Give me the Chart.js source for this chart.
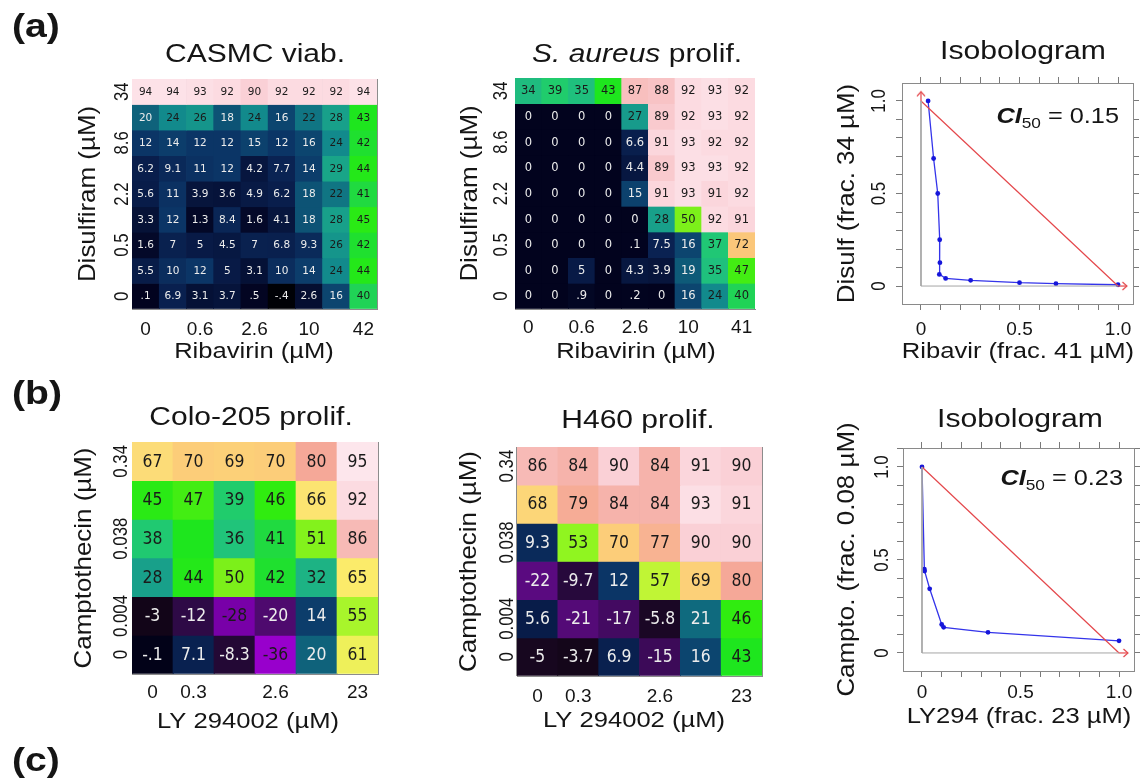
<!DOCTYPE html>
<html><head><meta charset="utf-8">
<script src="https://cdn.jsdelivr.net/npm/chart.js@4.4.0/dist/chart.umd.min.js"></script>
<style>
html,body{margin:0;padding:0;background:#fff;}
#wrap{position:relative;width:1141px;height:782px;overflow:hidden;background:#fff;}
canvas{position:absolute;}
</style></head><body><div id="wrap">
<canvas id="a1" width="410" height="372" style="left:0px;top:0px"></canvas>
<canvas id="a2" width="400" height="372" style="left:410px;top:0px"></canvas>
<canvas id="a3" width="331" height="372" style="left:810px;top:0px"></canvas>
<canvas id="b1" width="410" height="410" style="left:0px;top:372px"></canvas>
<canvas id="b2" width="400" height="410" style="left:410px;top:372px"></canvas>
<canvas id="b3" width="331" height="410" style="left:810px;top:372px"></canvas>
</div>
<script>
// ---------------- DATA ----------------
const casmcCols = ['0','','0.6','','2.6','','10','','42'];
const casmcRows = ['34','','8.6','','2.2','','0.5','','0'];
const casmcValues = [
  [94,94,93,92,90,92,92,92,94],
  [20,24,26,18,24,16,22,28,43],
  [12,14,12,12,15,12,16,24,42],
  [6.2,9.1,11,12,4.2,7.7,14,29,44],
  [5.6,11,3.9,3.6,4.9,6.2,18,22,41],
  [3.3,12,1.3,8.4,1.6,4.1,18,28,45],
  [1.6,7,5,4.5,7,6.8,9.3,26,42],
  [5.5,10,12,5,3.1,10,14,24,44],
  [0.1,6.9,3.1,3.7,0.5,-0.4,2.6,16,40]
];

const aureusCols = ['0','','0.6','','2.6','','10','','41'];
const aureusRows = ['34','','8.6','','2.2','','0.5','','0'];
const aureusValues = [
  [34,39,35,43,87,88,92,93,92],
  [0,0,0,0,27,89,92,93,92],
  [0,0,0,0,6.6,91,93,92,92],
  [0,0,0,0,4.4,89,93,93,92],
  [0,0,0,0,15,91,93,91,92],
  [0,0,0,0,0,28,50,92,91],
  [0,0,0,0,0.1,7.5,16,37,72],
  [0,0,5,0,4.3,3.9,19,35,47],
  [0,0,0.9,0,0.2,0,16,24,40]
];

const coloCols = ['0','0.3','','2.6','','23'];
const coloRows = ['0.34','','0.038','','0.004','0'];
const coloValues = [
  [67,70,69,70,80,95],
  [45,47,39,46,66,92],
  [38,43,36,41,51,86],
  [28,44,50,42,32,65],
  [-3,-12,-28,-20,14,55],
  [-0.1,7.1,-8.3,-36,20,61]
];
const coloUnprinted = [[2,1]];   // cell shown without a number in the figure

const h460Cols = ['0','0.3','','2.6','','23'];
const h460Rows = ['0.34','','0.038','','0.004','0'];
const h460Values = [
  [86,84,90,84,91,90],
  [68,79,84,84,93,91],
  [9.3,53,70,77,90,90],
  [-22,-9.7,12,57,69,80],
  [5.6,-21,-17,-5.8,21,46],
  [-5,-3.7,6.9,-15,16,43]
];

const isoARibavirin = [0.036,0.064,0.085,0.095,0.096,0.093,0.125,0.252,0.5,0.685,1.0];
const isoADisulf    = [1.0,0.689,0.5,0.25,0.126,0.063,0.041,0.031,0.018,0.013,0.007];
const isoBLy        = [0,0.012,0.0135,0.039,0.1,0.11,0.335,1.0];
const isoBCampto    = [1.0,0.451,0.44,0.345,0.153,0.138,0.111,0.065];
const additivity    = [[0,1],[1,0]];
const isoAArrowTips = [[0,1.05],[1.045,0]];
const isoBArrowTips = [[1.045,0]];
const isoTickValues = [0,0.5,1];
const isoTickLabels = ['0','0.5','1.0'];
const isoACI = '0.15';
const isoBCI = '0.23';

// ---------------- HELPERS ----------------
const FONT = "'Liberation Sans', Arial, Helvetica, sans-serif";
const CELLFONT = "'DejaVu Sans', Verdana, sans-serif";
const INK = '#151515';

const heatStops = [
 [-40,'#a400d8'],[-36,'#9800cc'],[-28,'#7800a8'],[-22,'#5a0a80'],[-20,'#4e0a6e'],[-15,'#3c0a58'],
 [-12,'#2e0a46'],[-8,'#220834'],[-5,'#17071f'],[-3,'#120518'],[-0.5,'#000000'],[0,'#02031e'],
 [2,'#040b2c'],[5,'#081a46'],[8,'#0a2454'],[12,'#0b3566'],[16,'#0c456f'],[19,'#0e5a78'],
 [21,'#0f6a7e'],[24,'#128a8c'],[28,'#18a08a'],[33,'#1eb882'],[36,'#20c47a'],[39,'#20cc6c'],
 [41,'#20da40'],[43,'#1ee61e'],[46,'#30ec10'],[50,'#7cf01a'],[53,'#90f520'],[57,'#c0f535'],
 [61,'#eef05a'],[65,'#fbeb6a'],[67,'#fcdc78'],[69,'#fcd078'],[72,'#fbc77a'],[77,'#f8b392'],
 [80,'#f5a898'],[84,'#f6b3ab'],[86,'#f7bab6'],[88,'#f8c3c5'],[90,'#fad0d6'],[92,'#fcdbe1'],[95,'#fde6ec']
];
function hex2rgb(h){return [1,3,5].map(i=>parseInt(h.substr(i,2),16));}
function heatColor(v){
  if (v <= heatStops[0][0]) return heatStops[0][1];
  for (let k=1;k<heatStops.length;k++){
    if (v <= heatStops[k][0]) {
      const [v0,c0] = heatStops[k-1], [v1,c1] = heatStops[k];
      const t = (v-v0)/(v1-v0), a = hex2rgb(c0), b = hex2rgb(c1);
      return 'rgb(' + a.map((x,i)=>Math.round(x+(b[i]-x)*t)).join(',') + ')';
    }
  }
  return heatStops[heatStops.length-1][1];
}
function labelColor(v){ return (v > -25 && v <= 21) ? '#ececec' : '#1a1a1a'; }
function fmtVal(v){
  if (v === 0) return '0';
  if (Math.abs(v) < 1) return (v<0?'-':'') + String(Math.abs(v)).replace(/^0/,'');
  return String(v);
}
function drawText(ctx, s, x, y, o){
  ctx.save();
  ctx.translate(x, y);
  if (o.rot) ctx.rotate(o.rot);
  ctx.scale(o.sx || 1, 1);
  ctx.font = o.font;
  ctx.fillStyle = o.color || INK;
  ctx.textAlign = o.align || 'center';
  ctx.textBaseline = o.base || 'alphabetic';
  ctx.fillText(s, 0, 0);
  ctx.restore();
}
function drawRich(ctx, segs, x, y, align, sx){
  ctx.save();
  ctx.translate(x, y);
  ctx.scale(sx, 1);
  let total = 0;
  segs.forEach(s => { ctx.font = s.font; s.w = ctx.measureText(s.t).width; total += s.w; });
  let cx = align === 'center' ? -total/2 : (align === 'right' ? -total : 0);
  segs.forEach(s => {
    ctx.font = s.font; ctx.fillStyle = INK; ctx.textAlign = 'left'; ctx.textBaseline = 'alphabetic';
    ctx.fillText(s.t, cx, s.dy || 0); cx += s.w;
  });
  ctx.restore();
}
const TITLE_F = '25px ' + FONT, TITLE_SX = 1.2;
const XT_F = '21.5px ' + FONT, XT_SX = 1.19;
const YT_F = '24px ' + FONT, YT_SX = 1.08;
const TICK_F = '19px ' + FONT;
const YTICK_F = '21px ' + FONT, YTICK_SX = 0.8;
const UP = -Math.PI/2;

// ---------------- HEATMAPS ----------------
function heatChart(id, p){
  const n = p.values.length;
  const [ox, oy] = p.origin;
  const textPlugin = {
    id: 'txt_' + id,
    afterDraw(chart){
      const ctx = chart.ctx, xs = chart.scales.x, ys = chart.scales.y;
      chart.data.datasets.forEach((ds, i) => {
        chart.getDatasetMeta(i).data.forEach((bar, j) => {
          if (p.unprinted && p.unprinted.some(h => h[0]===i && h[1]===j)) return;
          const v = p.values[i][j];
          drawText(ctx, fmtVal(v), bar.x, (bar.y + bar.base)/2 + 0.5,
            {font: p.cellFont, sx: p.cellSx, base: 'middle', color: labelColor(v)});
        });
      });
      p.cols.forEach((lab, j) => { if (lab) drawText(ctx, lab, xs.getPixelForValue(j), p.xTickY - oy, {font: TICK_F}); });
      p.rows.forEach((lab, i) => { if (lab) drawText(ctx, lab, p.yTickX - ox, ys.getPixelForValue(n - i - 0.5), {font: YTICK_F, sx: YTICK_SX, rot: UP}); });
      const mid = (chart.chartArea.top + chart.chartArea.bottom)/2;
      drawText(ctx, p.yTitle, p.yTitleX - ox, mid, {font: YT_F, sx: YT_SX, rot: UP});
      drawText(ctx, p.xTitle, p.xTitleX - ox, p.xTitleY - oy, {font: XT_F, sx: XT_SX});
      drawRich(ctx, p.title, p.titleX - ox, p.titleY - oy, 'center', TITLE_SX);
      (p.letters || []).forEach(L => drawText(ctx, L[0], L[1] - ox, L[2] - oy, {font: 'bold 34px ' + FONT, sx: 1.15, align: 'left'}));
    }
  };
  new Chart(document.getElementById(id), {
    type: 'bar',
    data: {
      labels: p.cols,
      datasets: p.values.map((row, i) => ({
        data: row.map(() => [n - 1 - i, n - i]),
        backgroundColor: row.map(v => heatColor(v)),
        borderWidth: 0, grouped: false, barPercentage: 1, categoryPercentage: 1
      }))
    },
    options: {
      responsive: false, animation: false, devicePixelRatio: 1,
      layout: {padding: p.padding},
      plugins: {legend: {display: false}, tooltip: {enabled: false}},
      scales: {
        x: {type: 'category', offset: true, z: 1,
            grid: {display: true, offset: true, color: '#8c8c8c', lineWidth: 1, drawTicks: false},
            border: {display: true, color: '#8c8c8c'}, ticks: {display: false},
            afterFit: s => { s.height = 0; }},
        y: {type: 'linear', min: 0, max: n, z: 1,
            grid: {display: true, color: '#8c8c8c', lineWidth: 1, drawTicks: false},
            border: {display: true, color: '#8c8c8c'}, ticks: {display: false, stepSize: 1},
            afterFit: s => { s.width = 0; }}
      }
    },
    plugins: [textPlugin]
  });
}

heatChart('a1', {
  origin: [0,0], values: casmcValues, cols: casmcCols, rows: casmcRows,
  padding: {left: 132, top: 79, right: 33, bottom: 63},
  cellFont: '10.5px ' + CELLFONT, cellSx: 1,
  title: [{t: 'CASMC viab.', font: TITLE_F}], titleX: 255, titleY: 62,
  yTitle: 'Disulfiram (µM)', yTitleX: 95, yTickX: 128,
  xTitle: 'Ribavirin (µM)', xTitleX: 254, xTitleY: 358, xTickY: 335,
  letters: [['(a)', 12, 37]]
});
heatChart('a2', {
  origin: [410,0], values: aureusValues, cols: aureusCols, rows: aureusRows,
  padding: {left: 105, top: 78, right: 55, bottom: 63},
  cellFont: '11.5px ' + CELLFONT, cellSx: 1,
  title: [{t: 'S. aureus', font: 'italic ' + TITLE_F}, {t: ' prolif.', font: TITLE_F}], titleX: 637, titleY: 62,
  yTitle: 'Disulfiram (µM)', yTitleX: 477, yTickX: 507,
  xTitle: 'Ribavirin (µM)', xTitleX: 636, xTitleY: 358, xTickY: 333
});
heatChart('b1', {
  origin: [0,372], values: coloValues, cols: coloCols, rows: coloRows, unprinted: coloUnprinted,
  padding: {left: 132, top: 70, right: 32, bottom: 108},
  cellFont: '18px ' + CELLFONT, cellSx: 0.87,
  title: [{t: 'Colo-205 prolif.', font: TITLE_F}], titleX: 251, titleY: 425,
  yTitle: 'Camptothecin (µM)', yTitleX: 91, yTickX: 127,
  xTitle: 'LY 294002 (µM)', xTitleX: 248, xTitleY: 728, xTickY: 698,
  letters: [['(b)', 12, 404], ['(c)', 12, 771]]
});
heatChart('b2', {
  origin: [410,372], values: h460Values, cols: h460Cols, rows: h460Rows,
  padding: {left: 107, top: 75, right: 48, bottom: 106},
  cellFont: '18px ' + CELLFONT, cellSx: 0.87,
  title: [{t: 'H460 prolif.', font: TITLE_F}], titleX: 638, titleY: 428,
  yTitle: 'Camptothecin (µM)', yTitleX: 476, yTickX: 513,
  xTitle: 'LY 294002 (µM)', xTitleX: 634, xTitleY: 727, xTickY: 702
});

// ---------------- ISOBOLOGRAMS ----------------
function makeArrow(color){
  const c = document.createElement('canvas'); c.width = 12; c.height = 12;
  const g = c.getContext('2d'); g.strokeStyle = color; g.lineWidth = 1.2;
  g.beginPath(); g.moveTo(1.5, 2); g.lineTo(6, 6); g.lineTo(1.5, 10); g.stroke();
  return c;
}
const RED = '#e4474b';
const arrowImg = makeArrow(RED);

function isoChart(id, p){
  const [ox, oy] = p.origin;
  const sc = (pos, axis) => ({
    type: 'linear', position: pos, axis: axis, display: true,
    min: axis === 'x' ? p.xMin : p.yMin, max: axis === 'x' ? p.xMax : p.yMax,
    grid: {display: true, drawOnChartArea: false, drawTicks: true, tickLength: 6, color: '#7a7a7a', lineWidth: 1},
    border: {display: true, color: '#8a8a8a', width: 1},
    ticks: {display: false, stepSize: 0.1, includeBounds: false},
    afterFit: s => { if (axis === 'x') s.height = 7; else s.width = 7; }
  });
  const a0 = additivity[0], a1 = additivity[1];
  const datasets = [
    {data: [{x: a0[0], y: a0[1]}, {x: a0[0], y: a1[1]}, {x: a1[0], y: a1[1]}], showLine: true,
     borderColor: '#a6a6a6', borderWidth: 1, pointRadius: 0},
    {data: [{x: a0[0], y: a0[1]}, {x: a1[0], y: a1[1]}], showLine: true,
     borderColor: RED, borderWidth: 1.2, pointRadius: 0}
  ];
  p.arrows.forEach(t => {
    const base = t[1] === 0 ? {x: a1[0], y: a1[1]} : {x: a0[0], y: a0[1]};
    datasets.push({data: [base, {x: t[0], y: t[1]}], showLine: true, borderColor: RED, borderWidth: 1.2,
      pointRadius: [0, 5], pointStyle: arrowImg, pointRotation: t[1] === 0 ? 0 : -90});
  });
  datasets.push({data: p.xs.map((x, i) => ({x: x, y: p.ys[i]})), showLine: true,
    borderColor: '#3434ea', borderWidth: 1.3, pointRadius: 2.4, pointBackgroundColor: '#1616da',
    pointBorderWidth: 0});
  const textPlugin = {
    id: 'isotxt_' + id,
    afterDraw(chart){
      const ctx = chart.ctx, xs = chart.scales.x, ys = chart.scales.y;
      isoTickValues.forEach((v, i) => {
        drawText(ctx, isoTickLabels[i], xs.getPixelForValue(v), p.xTickY - oy, {font: TICK_F});
        drawText(ctx, isoTickLabels[i], p.yTickX - ox, ys.getPixelForValue(v), {font: YTICK_F, sx: YTICK_SX, rot: UP});
      });
      const mid = (chart.chartArea.top + chart.chartArea.bottom)/2;
      drawText(ctx, p.yTitle, p.yTitleX - ox, mid, {font: YT_F, sx: YT_SX, rot: UP});
      drawText(ctx, p.xTitle, p.xTitleX - ox, p.xTitleY - oy, {font: XT_F, sx: XT_SX});
      drawRich(ctx, [{t: 'Isobologram', font: '26px ' + FONT}], p.titleX - ox, p.titleY - oy, 'center', 1.16);
      drawRich(ctx, [
        {t: 'CI', font: 'italic bold 22px ' + FONT},
        {t: '50', font: '15px ' + FONT, dy: 5},
        {t: ' = ' + p.ci, font: '22px ' + FONT}
      ], p.ciX - ox, p.ciY - oy, 'right', 1.15);
    }
  };
  new Chart(document.getElementById(id), {
    type: 'scatter',
    data: {datasets: datasets},
    options: {
      responsive: false, animation: false, devicePixelRatio: 1,
      layout: {padding: p.padding},
      plugins: {legend: {display: false}, tooltip: {enabled: false}},
      scales: {x: sc('bottom', 'x'), x2: sc('top', 'x'), y: sc('left', 'y'), y2: sc('right', 'y')}
    },
    plugins: [textPlugin]
  });
}

isoChart('a3', {
  origin: [810,0], xs: isoARibavirin, ys: isoADisulf, arrows: isoAArrowTips, ci: isoACI,
  padding: {left: 85, top: 76, right: 1, bottom: 61},
  xMin: -0.0964, xMax: 1.076, yMin: -0.097, yMax: 1.097,
  titleX: 1023, titleY: 59, yTitle: 'Disulf (frac. 34 µM)', yTitleX: 854, yTickX: 885,
  xTitle: 'Ribavir (frac. 41 µM)', xTitleX: 1018, xTitleY: 358, xTickY: 335,
  ciX: 1119, ciY: 123
});
isoChart('b3', {
  origin: [810,372], xs: isoBLy, ys: isoBCampto, arrows: isoBArrowTips, ci: isoBCI,
  padding: {left: 86, top: 69, right: 0, bottom: 104},
  xMin: -0.0964, xMax: 1.076, yMin: -0.097, yMax: 1.102,
  titleX: 1020, titleY: 427, yTitle: 'Campto. (frac. 0.08 µM)', yTitleX: 854, yTickX: 888,
  xTitle: 'LY294 (frac. 23 µM)', xTitleX: 1019, xTitleY: 723, xTickY: 698,
  ciX: 1123, ciY: 485
});
</script>
</body></html>
